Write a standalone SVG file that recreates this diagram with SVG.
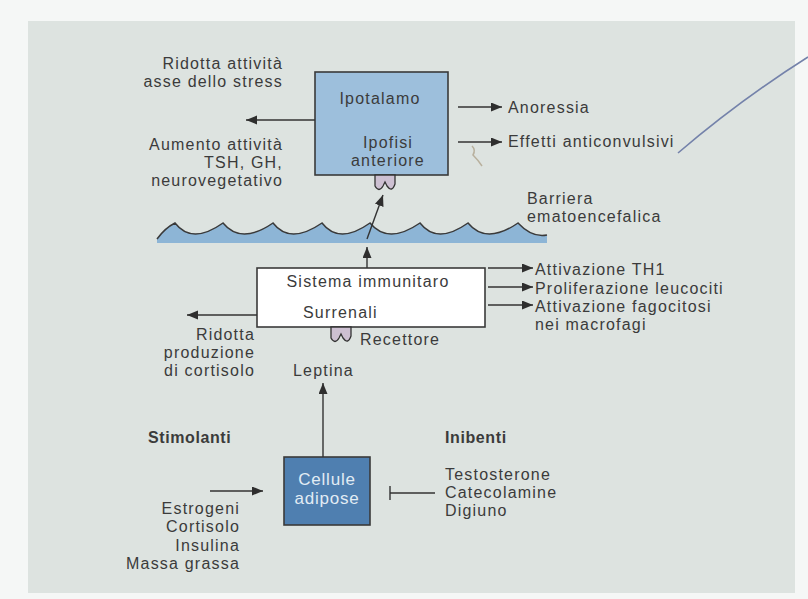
<svg xmlns="http://www.w3.org/2000/svg" width="808" height="599" viewBox="0 0 808 599">
<style>
.t{font-family:"Liberation Sans",Arial,sans-serif;font-size:16px;letter-spacing:1.2px;fill:#3b3b3b}
.b{font-weight:bold;letter-spacing:0.6px}
.r{text-anchor:end}
.m{text-anchor:middle}
.ln{stroke:#333;stroke-width:1.4;fill:none}
.box{stroke:#3a3a3a;stroke-width:1.6}
.rec{fill:#cdc0d2;stroke:#333;stroke-width:1.3}
</style>
<defs>
<marker id="ah" markerUnits="userSpaceOnUse" markerWidth="12" markerHeight="10" refX="11" refY="4.5" orient="auto">
<path d="M0,0 L11,4.5 L0,9 Z" fill="#2e2e2e"/>
</marker>
</defs>
<rect x="0" y="0" width="808" height="599" fill="#f5f7f6"/>
<rect x="28" y="21" width="767" height="572" fill="#dde3e0"/>

<g id="barriera">
<path d="M157,240 L157,239 Q165,228 175,223 Q192,245 223,223 Q241,245 273,223 Q290,245 322,223 Q339,245 370,223 Q388,245 420,223 Q437,245 468,223 Q486,245 518,223 Q532,238 547,235 L547,243 L157,243 Z" fill="#8db5d6"/>
<path d="M157,239 Q165,228 175,223 Q192,245 223,223 Q241,245 273,223 Q290,245 322,223 Q339,245 370,223 Q388,245 420,223 Q437,245 468,223 Q486,245 518,223 Q532,238 547,235" fill="none" stroke="#3a3a3a" stroke-width="1.5"/>
<text class="t" x="527" y="204">Barriera</text>
<text class="t" x="527" y="222">ematoencefalica</text>
</g>

<g id="ipotalamo">
<rect class="box" x="315" y="72" width="133" height="103" fill="#9dbfdc"/>
<text class="t m" x="380" y="104">Ipotalamo</text>
<text class="t m" x="388" y="148">Ipofisi</text>
<text class="t m" x="388" y="166">anteriore</text>
<path class="rec" d="M375,175 L375,186 Q379,193 383,186 L385,182 L387,186 Q392,193 395,184 L395,175 Z"/>
</g>

<g id="sistema">
<rect class="box" x="257" y="268" width="228" height="59" fill="#ffffff"/>
<text class="t m" x="368" y="287">Sistema immunitaro</text>
<text class="t" x="303" y="318">Surrenali</text>
<path class="rec" d="M331,327 L331,338 Q335,345 339,338 L341,334 L343,338 Q348,345 351,336 L351,327 Z"/>
<text class="t" x="360" y="345">Recettore</text>
</g>

<g id="cellule">
<rect class="box" x="284" y="457" width="86" height="68" fill="#4f7fb0"/>
<text class="t m" x="327" y="485" style="fill:#e2ecf4;font-size:17px;letter-spacing:0.8px">Cellule</text>
<text class="t m" x="327" y="504" style="fill:#e2ecf4;font-size:17px;letter-spacing:0.8px">adipose</text>
</g>

<g id="labels">
<text class="t r" x="283" y="69">Ridotta attività</text>
<text class="t r" x="283" y="87">asse dello stress</text>
<text class="t r" x="283" y="150">Aumento attività</text>
<text class="t r" x="283" y="168">TSH, GH,</text>
<text class="t r" x="283" y="186">neurovegetativo</text>
<text class="t" x="508" y="113">Anoressia</text>
<text class="t" x="508" y="147">Effetti anticonvulsivi</text>
<text class="t" x="535" y="275">Attivazione TH1</text>
<text class="t" x="535" y="294">Proliferazione leucociti</text>
<text class="t" x="535" y="312">Attivazione fagocitosi</text>
<text class="t" x="535" y="330">nei macrofagi</text>
<text class="t r" x="255" y="340">Ridotta</text>
<text class="t r" x="255" y="358">produzione</text>
<text class="t r" x="255" y="376">di cortisolo</text>
<text class="t" x="293" y="376">Leptina</text>
<text class="t b" x="148" y="443">Stimolanti</text>
<text class="t b" x="445" y="443">Inibenti</text>
<text class="t r" x="240" y="514">Estrogeni</text>
<text class="t r" x="240" y="532">Cortisolo</text>
<text class="t r" x="240" y="551">Insulina</text>
<text class="t r" x="240" y="569">Massa grassa</text>
<text class="t" x="445" y="480">Testosterone</text>
<text class="t" x="445" y="498">Catecolamine</text>
<text class="t" x="445" y="516">Digiuno</text>
</g>

<g id="connectors">
<line class="ln" x1="315" y1="120" x2="246" y2="120" marker-end="url(#ah)"/>
<line class="ln" x1="458" y1="107" x2="502" y2="107" marker-end="url(#ah)"/>
<line class="ln" x1="458" y1="142" x2="502" y2="142" marker-end="url(#ah)"/>
<line class="ln" x1="367" y1="239" x2="383" y2="195" marker-end="url(#ah)"/>
<line class="ln" x1="367" y1="268" x2="367" y2="247" marker-end="url(#ah)"/>
<line class="ln" x1="257" y1="315" x2="187" y2="315" marker-end="url(#ah)"/>
<line class="ln" x1="488" y1="268" x2="533" y2="268" marker-end="url(#ah)"/>
<line class="ln" x1="488" y1="287" x2="533" y2="287" marker-end="url(#ah)"/>
<line class="ln" x1="488" y1="305" x2="533" y2="305" marker-end="url(#ah)"/>
<line class="ln" x1="323" y1="457" x2="323" y2="383" marker-end="url(#ah)"/>
<line class="ln" x1="210" y1="491" x2="263" y2="491" marker-end="url(#ah)"/>
<line class="ln" x1="435" y1="493" x2="390" y2="493"/>
<line class="ln" x1="390" y1="486" x2="390" y2="500" stroke-width="1.2"/>
</g>

<path d="M678,153 Q740,100 808,57" fill="none" stroke="#7482aa" stroke-width="1.6"/>
<path d="M472,146 Q476,150 473,155 Q478,160 482,166" fill="none" stroke="#a89a80" stroke-width="1.5" opacity="0.7"/>
</svg>
